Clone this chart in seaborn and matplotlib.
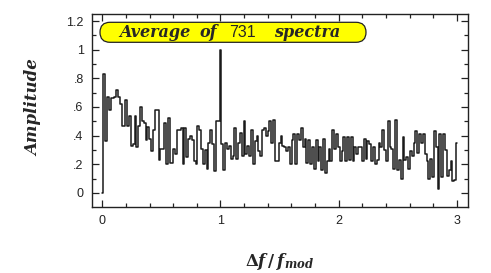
import numpy as np
import pandas as pd
import matplotlib
matplotlib.use("Agg")
import matplotlib.pyplot as plt
from matplotlib.patches import FancyBboxPatch
from matplotlib.transforms import IdentityTransform
import seaborn as sns

# ---- data ----
bin_width = 1.0 / 64
amplitude = [
    0.00, 0.83, 0.36, 0.67, 0.58, 0.66, 0.66, 0.67, 0.72, 0.67,
    0.62, 0.47, 0.47, 0.65, 0.47, 0.54, 0.33, 0.34, 0.54, 0.32,
    0.47, 0.60, 0.50, 0.49, 0.37, 0.46, 0.38, 0.29, 0.44, 0.58,
    0.58, 0.23, 0.31, 0.31, 0.49, 0.20, 0.52, 0.21, 0.21, 0.31,
    0.27, 0.44, 0.44, 0.45, 0.20, 0.45, 0.25, 0.38, 0.40, 0.37,
    0.22, 0.20, 0.47, 0.44, 0.31, 0.20, 0.30, 0.17, 0.35, 0.44,
    0.34, 0.15, 0.50, 0.50, 1.00, 0.34, 0.16, 0.35, 0.31, 0.33,
    0.24, 0.26, 0.45, 0.24, 0.35, 0.42, 0.26, 0.50, 0.27, 0.33,
    0.26, 0.44, 0.20, 0.36, 0.40, 0.29, 0.26, 0.44, 0.45, 0.40,
    0.43, 0.50, 0.35, 0.51, 0.22, 0.22, 0.35, 0.40, 0.33, 0.32,
    0.29, 0.32, 0.20, 0.37, 0.41, 0.20, 0.41, 0.37, 0.45, 0.32,
    0.38, 0.21, 0.37, 0.20, 0.32, 0.17, 0.37, 0.22, 0.32, 0.16,
    0.38, 0.14, 0.22, 0.31, 0.22, 0.44, 0.31, 0.41, 0.32, 0.22,
    0.29, 0.39, 0.22, 0.39, 0.23, 0.39, 0.22, 0.32, 0.27, 0.32,
    0.32, 0.22, 0.38, 0.24, 0.36, 0.34, 0.22, 0.32, 0.20, 0.23,
    0.35, 0.32, 0.44, 0.30, 0.22, 0.50, 0.32, 0.31, 0.17, 0.51,
    0.16, 0.23, 0.10, 0.39, 0.23, 0.25, 0.17, 0.29, 0.26, 0.35,
    0.43, 0.28, 0.41, 0.35, 0.41, 0.27, 0.22, 0.10, 0.24, 0.11,
    0.43, 0.32, 0.03, 0.41, 0.11, 0.41, 0.30, 0.12, 0.16, 0.22,
    0.08, 0.09, 0.35,
]
delta_f = np.arange(len(amplitude)) * bin_width

x_ticks = [0, 1, 2, 3]
x_tick_labels = ["0", "1", "2", "3"]
y_ticks = [0, 0.2, 0.4, 0.6, 0.8, 1.0, 1.2]
y_tick_labels = ["0", ".2", ".4", ".6", ".8", "1", "1.2"]
n_spectra = 731

df = pd.DataFrame({"df": delta_f, "amp": amplitude})

# ---- style ----
sns.set_style("ticks")
plt.rcParams["font.family"] = ["Liberation Sans", "DejaVu Sans"]
plt.rcParams["mathtext.fontset"] = "custom"
plt.rcParams["mathtext.it"] = "DejaVu Serif:italic:bold"
plt.rcParams["mathtext.rm"] = "DejaVu Serif:bold"
plt.rcParams["mathtext.bf"] = "DejaVu Serif:italic:bold"

W, H = 491, 273
fig = plt.figure(figsize=(W / 100, H / 100), dpi=100)
ax = fig.add_axes([92 / W, 1 - 207 / H, (467.7 - 92) / W, (207 - 14) / H])

sns.lineplot(data=df, x="df", y="amp", ax=ax, drawstyle="steps-mid",
             color="#1a1a1a", linewidth=1.1, estimator=None, sort=False)

ax.set_xlim(-0.0864, 3.09)
ax.set_ylim(-0.098, 1.249)
ax.set_xticks(x_ticks)
ax.set_xticklabels(x_tick_labels)
ax.set_yticks(y_ticks)
ax.set_yticklabels(y_tick_labels)
ax.set_xticks(np.arange(0, 3.01, 0.2), minor=True)
ax.set_yticks(np.arange(0, 1.21, 0.1), minor=True)
ax.tick_params(which="both", direction="in", top=True, right=True,
               labelsize=9, colors="#222222", width=0.9)
ax.tick_params(which="major", length=5, pad=6)
ax.tick_params(which="minor", length=3)
for s in ax.spines.values():
    s.set_linewidth(1.0)
    s.set_color("#222222")

ax.set_xlabel("")
ax.set_ylabel("")
fig.text(280 / W, 1 - 262 / H, r"$\Delta f\,/\,f_{mod}$", ha="center", va="center",
         fontsize=12)
fig.text(34 / W, 1 - 108 / H, "Amplitude", rotation=90, ha="center", va="center",
         fontsize=12, family="DejaVu Serif", style="italic", weight="bold")

# title box (pill)
box = FancyBboxPatch((100, H - 42.3), 266, 20,
                     boxstyle="round,pad=0,rounding_size=10",
                     transform=IdentityTransform(), facecolor="#ffff00",
                     edgecolor="#222222", linewidth=0.9, zorder=5)
fig.patches.append(box)
yc = 1 - 32.5 / H
serif_kw = dict(family="DejaVu Serif", style="italic", weight="bold",
                fontsize=11.5, va="center", ha="left", zorder=6)
fig.text(119 / W, yc, "Average", **serif_kw)
fig.text(199 / W, yc, "of", **serif_kw)
fig.text(229 / W, yc, str(n_spectra), family=["Liberation Sans", "DejaVu Sans"],
         fontsize=11.5, va="center", ha="left", zorder=6)
fig.text(274 / W, yc, "spectra", **serif_kw)

fig.savefig("out.png", dpi=100)
